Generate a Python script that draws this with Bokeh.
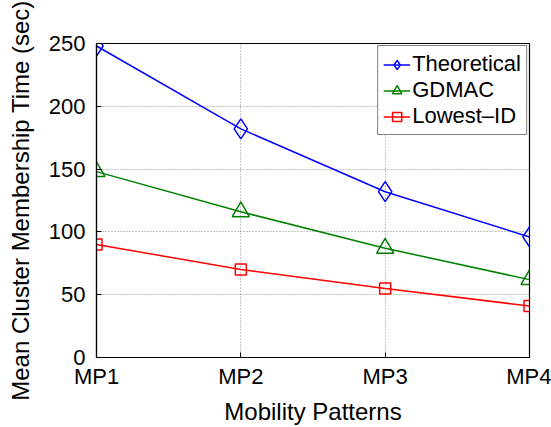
from bokeh.plotting import figure
from bokeh.models import Range1d, FixedTicker, Legend, LegendItem
from bokeh.embed import file_html
from bokeh.resources import INLINE

categories = ["MP1", "MP2", "MP3", "MP4"]
theoretical = [248, 182, 132, 96]
gdmac = [148, 116, 87, 62]
lowest_id = [90, 70, 55, 41]
y_ticks = [0, 50, 100, 150, 200, 250]

x = list(range(1, len(categories) + 1))
FONT = "Liberation Sans"

p = figure(width=551, height=427, output_backend="svg", toolbar_location=None,
           x_range=Range1d(1, 4), y_range=Range1d(0, 250),
           min_border_left=96, min_border_right=22, min_border_top=43, min_border_bottom=69)
p.background_fill_color = "white"
p.border_fill_color = "white"
p.outline_line_color = "black"
p.outline_line_width = 1.2

p.xaxis.ticker = FixedTicker(ticks=x)
p.xaxis.major_label_overrides = {i: c for i, c in zip(x, categories)}
p.yaxis.ticker = FixedTicker(ticks=y_ticks)
for ax in (p.xaxis, p.yaxis):
    ax.axis_line_color = "black"
    ax.axis_line_width = 1.2
    ax.major_tick_in = 5
    ax.major_tick_out = 0
    ax.minor_tick_line_color = None
    ax.major_tick_line_color = "black"
    ax.major_label_text_font = FONT
    ax.major_label_text_font_size = "22px"
    ax.major_label_text_color = "black"
    ax.axis_label_text_font = FONT
    ax.axis_label_text_font_size = "24px"
    ax.axis_label_text_font_style = "normal"
    ax.axis_label_text_color = "black"
p.xaxis.axis_label = "Mobility Patterns"
p.yaxis.axis_label = "Mean Cluster Membership Time (sec)"
p.xaxis.major_label_standoff = 6
p.yaxis.major_label_standoff = 11
p.xaxis.axis_label_standoff = 6
p.yaxis.axis_label_standoff = 12

for g in (p.xgrid, p.ygrid):
    g.grid_line_color = "#888888"
    g.grid_line_dash = "1 2"
    g.grid_line_width = 1

items = []
series = [("Theoretical", theoretical, "#0000ff", "diamond", 20),
          ("GDMAC", gdmac, "#008000", "triangle", 17),
          ("Lowest\u2013ID", lowest_id, "#ff0000", "square", 11)]
for name, ys, col, mk, sz in series:
    l = p.line(x, ys, line_color=col, line_width=1.5)
    m = p.scatter(x, ys, marker=mk, size=sz, line_color=col, fill_color=None, line_width=1.5)
    items.append(LegendItem(label=name, renderers=[l, m]))

leg = Legend(items=items, location="top_right")
leg.label_text_font = FONT
leg.label_text_font_size = "22px"
leg.label_text_color = "black"
leg.border_line_color = "black"
leg.border_line_width = 1
leg.background_fill_color = "white"
leg.background_fill_alpha = 1
leg.margin = 2
leg.padding = 5
leg.spacing = 0
leg.glyph_width = 27
leg.glyph_height = 23
leg.label_standoff = 2
leg.label_height = 23
p.add_layout(leg)

open("out.html", "w").write(file_html(p, INLINE))
